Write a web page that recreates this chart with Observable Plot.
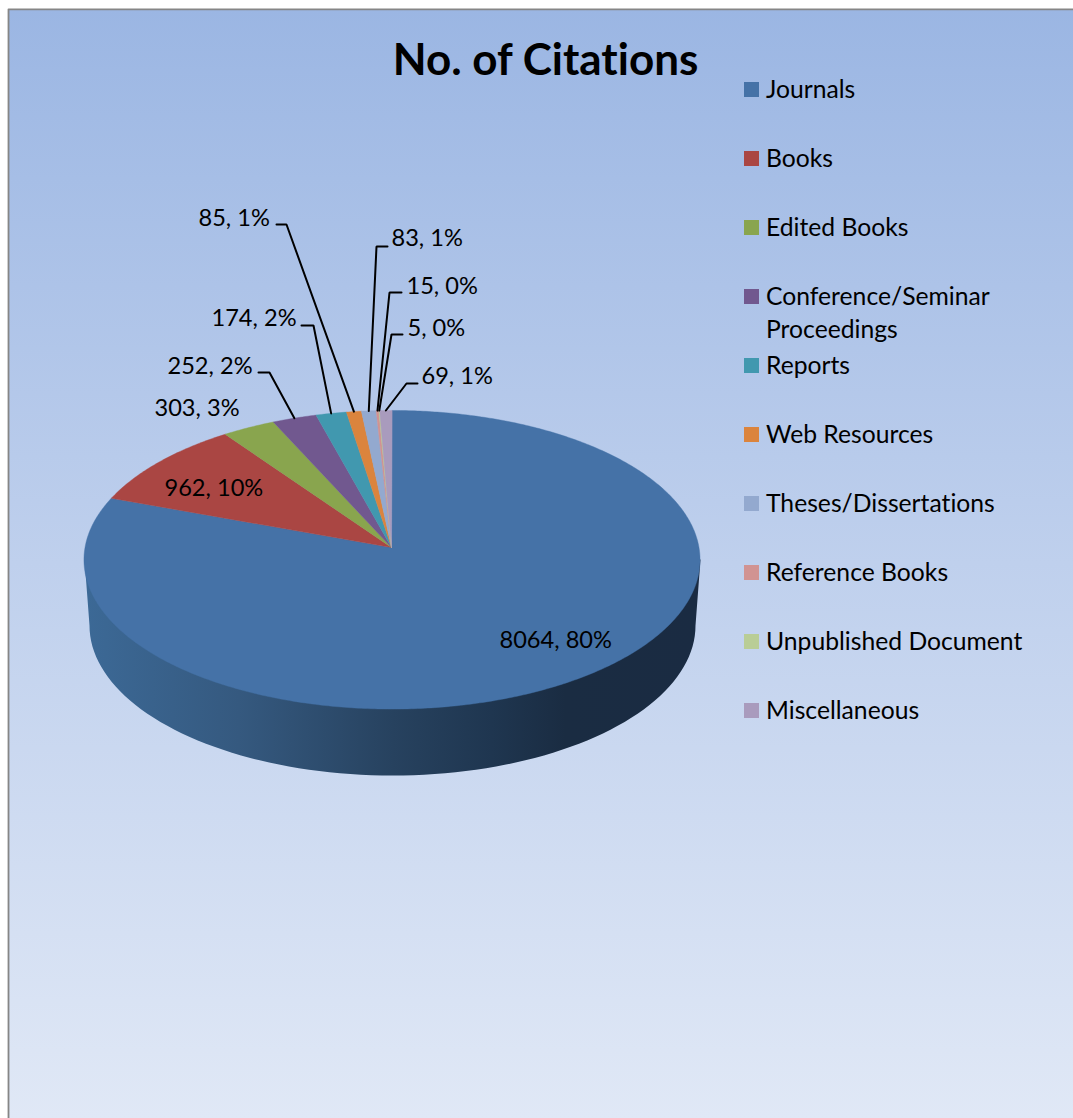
<!DOCTYPE html>
<html>
<head>
<meta charset="utf-8">
<title>No. of Citations</title>
<style>
  html, body { margin: 0; padding: 0; background: #fff; }
  svg { display: block; }
  svg text { font-variant-ligatures: none; }
</style>
<script src="https://cdn.jsdelivr.net/npm/d3@7"></script>
<script src="https://cdn.jsdelivr.net/npm/@observablehq/plot@0.6"></script>
</head>
<body>
<div id="chart"></div>
<script>
// Citation counts by source type
const categories = ["Journals", "Books", "Edited Books", "Conference/Seminar\nProceedings", "Reports",
  "Web Resources", "Theses/Dissertations", "Reference Books", "Unpublished Document", "Miscellaneous"];
const citations = [8064, 962, 303, 252, 174, 85, 83, 15, 5, 69];
const percents = [80, 10, 3, 2, 2, 1, 1, 0, 0, 1];
const sliceColors = ["#4572A7", "#AA4643", "#89A54E", "#71588F", "#4198AF",
  "#DB843D", "#93A9CF", "#D19392", "#B9CD96", "#A99BBD"];

// Data label anchor (left edge, vertical centre) per slice
const labelX = [499, 164, 154, 167, 211, 198, 391, 406, 407, 421];
const labelY = [640, 488, 408, 366, 318, 218, 238, 286, 328, 376];
// Leader lines: text end and knee; null where the label sits on its slice
const leaderStart = [null, null, null, [258, 372], [301, 325], [276, 224], [387, 246], [401, 292], [402, 334], [417, 383]];
const leaderKnee = [null, null, null, [269, 372], [313, 325], [286, 224], [376, 246], [389, 292], [391, 334], [406, 383]];

// Tilted disc with perspective: the far rim is closer to the apex than the near rim
const disc = {cx: 391.5, cy: 547, a: 307, b: 148.3, k: 0.0822};
const project = (theta) => {
  const u = Math.sin(theta), v = Math.cos(theta), w = 1 + disc.k * v;
  return [disc.cx + disc.a * u / w, disc.cy - disc.b * v / w];
};

const total = d3.sum(citations);
const cumulative = d3.cumsum(citations);
const startAngle = (i) => (i === 0 ? 0 : cumulative[i - 1]) / total * 2 * Math.PI;
const endAngle = (i) => cumulative[i] / total * 2 * Math.PI;
const midAngle = (i) => (startAngle(i) + endAngle(i)) / 2;

// Each wedge as a closed outline: apex, then samples along the rim
const slicePoints = categories.flatMap((name, i) => {
  const a0 = startAngle(i), a1 = endAngle(i);
  const n = Math.max(2, Math.ceil((a1 - a0) / 0.01));
  const rim = d3.range(n + 1).map((j) => project(a0 + (a1 - a0) * j / n));
  return [[disc.cx - 0.5, disc.cy], ...rim].map(([x, y]) => ({name, x, y}));
});

// Side wall: front half of a slightly narrower, lower copy of the rim
const wallBottom = {cx: 392, cy: 625, rx: 303, ry: 150};
const wallPoints = [
  {x: 84, y: 559}, {x: 700, y: 559},
  ...d3.range(0, 181, 2).map((deg) => ({
    x: wallBottom.cx + wallBottom.rx * Math.cos(deg * Math.PI / 180),
    y: wallBottom.cy + wallBottom.ry * Math.sin(deg * Math.PI / 180)
  }))
];

const leaders = categories.flatMap((name, i) => leaderStart[i] ? [
  {i, x: leaderStart[i][0], y: leaderStart[i][1]},
  {i, x: leaderKnee[i][0], y: leaderKnee[i][1]},
  {i, x: project(midAngle(i))[0], y: project(midAngle(i))[1]}
] : []);

const labels = categories.map((name, i) => ({
  text: `${citations[i]}, ${percents[i]}%`, x: labelX[i], y: labelY[i]
}));

const rowY = (i) => 89.5 + 69 * i;
const font = "Lato, Carlito, sans-serif";

// Gradient paints used by the background and the side wall
const gradients = () => {
  const defs = d3.create("svg:defs");
  const add = (id, attrs, stops) => {
    const g = defs.append("linearGradient").attr("id", id).attr("gradientUnits", "userSpaceOnUse");
    Object.entries(attrs).forEach(([k, v]) => g.attr(k, v));
    stops.forEach(([o, c]) => g.append("stop").attr("offset", o).attr("stop-color", c));
  };
  add("page", {x1: 0, y1: 9, x2: 0, y2: 1118}, [[0, "#9BB6E3"], [0.5, "#BFD0ED"], [1, "#E0E8F6"]]);
  add("wall", {x1: 85, y1: 0, x2: 700, y2: 0}, [
    [0, "#3C6996"], [0.25, "#35597F"], [0.5, "#27425F"], [0.66, "#1F3650"], [0.78, "#1A2C42"], [1, "#1A2B42"]
  ]);
  return defs.node();
};

const chart = Plot.plot({
  width: 1073,
  height: 1118,
  margin: 0,
  x: {domain: [0, 1073], range: [0, 1073], axis: null},
  y: {domain: [0, 1118], range: [0, 1118], axis: null},
  color: {type: "ordinal", domain: categories, range: sliceColors},
  style: {background: "#fff"},
  marks: [
    gradients,
    Plot.rect([0], {x1: () => 8, x2: () => 1073, y1: () => 9, y2: () => 1118, fill: "url(#page)"}),
    Plot.line([{x: 8, y: 1118}, {x: 8, y: 8.8}, {x: 1073, y: 8.8}], {x: "x", y: "y", stroke: "#868686", strokeWidth: 1.8}),

    // Pie body
    Plot.line(wallPoints, {x: "x", y: "y", fill: "url(#wall)", stroke: "none", curve: "linear-closed"}),
    Plot.line(slicePoints, {x: "x", y: "y", z: "name", fill: "name", stroke: "name", strokeWidth: 0.4, curve: "linear-closed"}),

    // Leader lines and data labels
    Plot.line(leaders, {x: "x", y: "y", z: "i", stroke: "#000", strokeWidth: 2, strokeLinejoin: "miter"}),
    Plot.text(labels, {x: "x", y: "y", text: "text", textAnchor: "start", lineAnchor: "middle", fontSize: 23.6, fontFamily: font, fill: "#000"}),

    // Title
    Plot.text(["No. of Citations"], {x: () => 545, y: () => 60, text: (d) => d, fontSize: 44, fontWeight: "bold", fontFamily: font, fill: "#000", lineAnchor: "middle"}),

    // Legend
    Plot.rect(categories, {x1: () => 744, x2: () => 759, y1: (d, i) => rowY(i) - 7.5, y2: (d, i) => rowY(i) + 7.5, fill: (d) => d}),
    Plot.text(categories, {x: () => 765.5, y: (d, i) => rowY(i) - 15, text: (d) => d, textAnchor: "start", lineAnchor: "top", lineHeight: 1.335, fontSize: 24.7, fontFamily: font, fill: "#000"})
  ]
});
document.getElementById("chart").append(chart);
</script>
</body>
</html>
